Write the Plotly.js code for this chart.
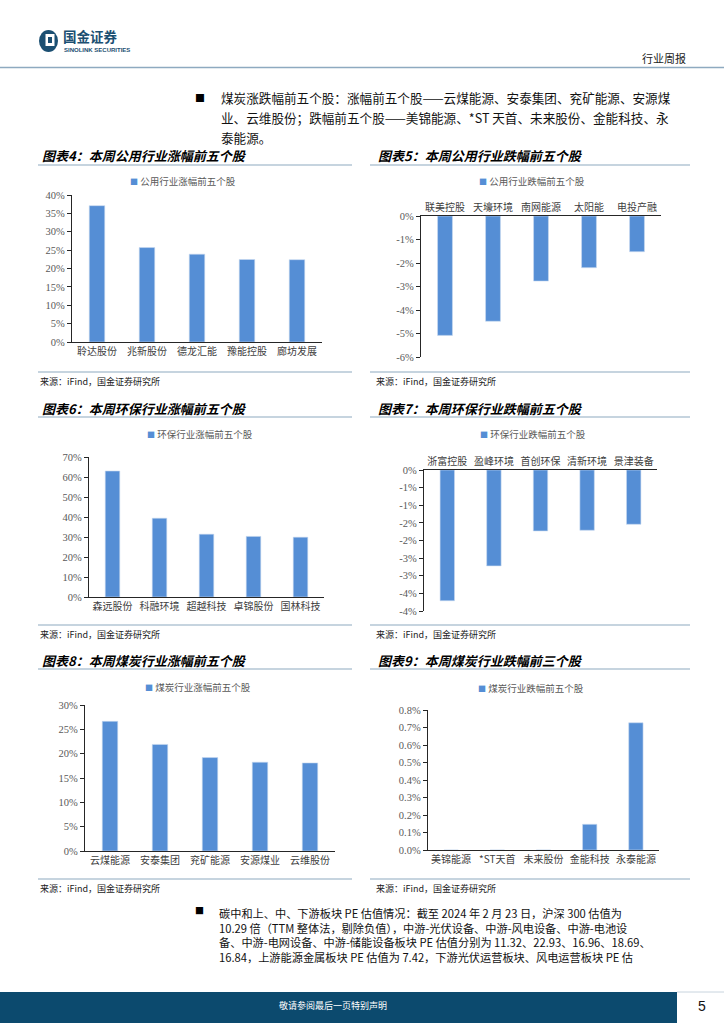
<!DOCTYPE html>
<html>
<head>
<meta charset="utf-8">
<script src="https://cdn.plot.ly/plotly-3.0.1.min.js"></script>
<style>
html,body{margin:0;padding:0;background:#fff;}
#page{width:724px;height:1024px;}
</style>
</head>
<body>
<div id="page"></div>
<script>
// ---------- data ----------
const c4Cats = ['聆达股份','兆新股份','德龙汇能','豫能控股','廊坊发展'];
const c4Vals = [0.371, 0.257, 0.239, 0.2245, 0.224];
const c4Name = '公用行业涨幅前五个股';

const c5Cats = ['联美控股','天壕环境','南网能源','太阳能','电投产融'];
const c5Vals = [-0.0508, -0.0448, -0.0277, -0.0220, -0.0152];
const c5Name = '公用行业跌幅前五个股';

const c6Cats = ['森远股份','科融环境','超越科技','卓锦股份','国林科技'];
const c6Vals = [0.630, 0.394, 0.314, 0.303, 0.299];
const c6Name = '环保行业涨幅前五个股';

const c7Cats = ['浙富控股','盈峰环境','首创环保','清新环境','景津装备'];
const c7Vals = [-0.0371, -0.0272, -0.0173, -0.0171, -0.0154];
const c7Name = '环保行业跌幅前五个股';

const c8Cats = ['云煤能源','安泰集团','兖矿能源','安源煤业','云维股份'];
const c8Vals = [0.2665, 0.219, 0.192, 0.1825, 0.181];
const c8Name = '煤炭行业涨幅前五个股';

const c9Cats = ['美锦能源','*ST天首','未来股份','金能科技','永泰能源'];
const c9Vals = [0, 0, 0, 0.00147, 0.00727];
const c9Name = '煤炭行业跌幅前五个股';

const c5TickVals = [0, -0.01, -0.02, -0.03, -0.04, -0.05, -0.06];
const c5TickText = ['0%','-1%','-2%','-3%','-4%','-5%','-6%'];
const c7TickVals = [0, -0.005, -0.01, -0.015, -0.02, -0.025, -0.03, -0.035, -0.04];
const c7TickText = ['0%','-1%','-1%','-2%','-2%','-3%','-3%','-4%','-4%'];

const titles = ['图表4：本周公用行业涨幅前五个股','图表5：本周公用行业跌幅前五个股',
  '图表6：本周环保行业涨幅前五个股','图表7：本周环保行业跌幅前五个股',
  '图表8：本周煤炭行业涨幅前五个股','图表9：本周煤炭行业跌幅前三个股'];
const sourceText = '来源：iFind，国金证券研究所';

const topPara = ['煤炭涨跌幅前五个股：涨幅前五个股——云煤能源、安泰集团、兖矿能源、安源煤',
  '业、云维股份；跌幅前五个股——美锦能源、*ST 天首、未来股份、金能科技、永',
  '泰能源。'];
const botPara = ['碳中和上、中、下游板块 PE 估值情况：截至 2024 年 2 月 23 日，沪深 300 估值为',
  '10.29 倍（TTM 整体法，剔除负值），中游-光伏设备、中游-风电设备、中游-电池设',
  '备、中游-电网设备、中游-储能设备板块 PE 估值分别为 11.32、22.93、16.96、18.69、',
  '16.84，上游能源金属板块 PE 估值为 7.42，下游光伏运营板块、风电运营板块 PE 估'];

// ---------- helpers ----------
const W = 724, H = 1024;
const px = x => x / W;
const py = y => 1 - y / H;
const CJK = 'Noto Sans CJK SC';
const SERIF = 'Liberation Serif';
const BAR = '#558ed5';
const RULE = '#8eaac0';

const charts = [
  {cats:c4Cats, vals:c4Vals, name:c4Name, x:[72,322],  y:[195,342], range:[0,0.4],   dtick:0.05, fmt:'.0%', top:false, leg:[183,181]},
  {cats:c5Cats, vals:c5Vals, name:c5Name, x:[421,661], y:[216,357], range:[-0.06,0], tv:c5TickVals, tt:c5TickText, top:true, leg:[532,181]},
  {cats:c6Cats, vals:c6Vals, name:c6Name, x:[89,324],  y:[457,597], range:[0,0.7],   dtick:0.1,  fmt:'.0%', top:false, leg:[200,434]},
  {cats:c7Cats, vals:c7Vals, name:c7Name, x:[424,657], y:[470,611], range:[-0.04,0], tv:c7TickVals, tt:c7TickText, top:true, leg:[533,434]},
  {cats:c8Cats, vals:c8Vals, name:c8Name, x:[85,335],  y:[705,851], range:[0,0.3],   dtick:0.05, fmt:'.0%', top:false, leg:[198,687]},
  {cats:c9Cats, vals:c9Vals, name:c9Name, x:[428,659], y:[710,850], range:[0,0.008], dtick:0.001,fmt:'.1%', top:false, leg:[531,688]}
];

const data = [];
const layout = {
  width: W, height: H,
  margin: {l:0, r:0, t:0, b:0},
  paper_bgcolor: '#fff', plot_bgcolor: 'rgba(0,0,0,0)',
  showlegend: false,
  bargap: 0.69,
  font: {family: CJK, color: '#333'},
  annotations: [], shapes: []
};

charts.forEach((c, i) => {
  const n = i + 1;
  const xa = n === 1 ? 'x' : 'x' + n;
  const ya = n === 1 ? 'y' : 'y' + n;
  data.push({
    type: 'bar', x: c.cats, y: c.vals, name: c.name,
    xaxis: xa, yaxis: ya,
    marker: {color: BAR, line: {color: '#c9daf0', width: 0.6}},
    hoverinfo: 'none'
  });
  const xk = n === 1 ? 'xaxis' : 'xaxis' + n;
  const yk = n === 1 ? 'yaxis' : 'yaxis' + n;
  layout[xk] = {
    domain: [px(c.x[0]), px(c.x[1])], anchor: ya, type: 'category',
    side: c.top ? 'top' : 'bottom',
    showline: true, linecolor: '#262626', linewidth: 1.2,
    ticks: '', showgrid: false, zeroline: false,
    tickfont: {family: CJK, size: 10, color: '#404040'},
    fixedrange: true
  };
  const yax = {
    domain: [py(c.y[1]), py(c.y[0])], anchor: xa,
    range: c.range, showline: true, linecolor: '#262626', linewidth: 1.2,
    ticks: 'outside', ticklen: 4, tickcolor: '#262626', tickwidth: 1,
    showgrid: false, zeroline: false,
    tickfont: {family: SERIF, size: 10.5, color: '#595959'},
    fixedrange: true
  };
  if (c.tv) { yax.tickmode = 'array'; yax.tickvals = c.tv; yax.ticktext = c.tt; }
  else { yax.tickmode = 'linear'; yax.tick0 = 0; yax.dtick = c.dtick; yax.tickformat = c.fmt; }
  layout[yk] = yax;
  // legend (as annotation with square marker)
  layout.annotations.push({
    xref:'paper', yref:'paper', x: px(c.leg[0]), y: py(c.leg[1]),
    xanchor:'center', yanchor:'middle', showarrow:false,
    text: '<span style="color:' + BAR + ';font-size:8px">■</span> ' + c.name,
    font: {family: CJK, size: 9.5, color: '#595959'}
  });
});

// chart titles, rules, sources
const blocks = [
  {tY:155, uY:165, bY:372, sY:381},
  {tY:408, uY:417, bY:625, sY:634},
  {tY:660, uY:669, bY:879, sY:888}
];
blocks.forEach((b, r) => {
  [[38,352,40],[370,690,376]].forEach((col, k) => {
    layout.annotations.push({
      xref:'paper', yref:'paper', x: px(col[2]), y: py(b.tY), xanchor:'left', yanchor:'middle',
      showarrow:false, text: '<b><i>' + titles[r*2+k] + '</i></b>',
      font: {family: CJK, size: 13, color: '#000'}
    });
    layout.annotations.push({
      xref:'paper', yref:'paper', x: px(col[2]-2), y: py(b.sY), xanchor:'left', yanchor:'middle',
      showarrow:false, text: sourceText,
      font: {family: CJK, size: 9, color: '#222'}
    });
    layout.shapes.push({type:'line', xref:'paper', yref:'paper', x0:px(col[0]), x1:px(col[1]), y0:py(b.uY), y1:py(b.uY), line:{color:RULE, width:1.2}});
    layout.shapes.push({type:'line', xref:'paper', yref:'paper', x0:px(col[0]), x1:px(col[1]), y0:py(b.bY), y1:py(b.bY), line:{color:RULE, width:1.2}});
  });
});

// header
layout.shapes.push({type:'line', xref:'paper', yref:'paper', x0:0, x1:1, y0:py(67.5), y1:py(67.5), line:{color:RULE, width:1.5}});
layout.shapes.push({type:'circle', xref:'paper', yref:'paper', x0:px(39), x1:px(58), y0:py(52), y1:py(30), fillcolor:'#1b4f72', line:{width:0}});
layout.shapes.push({type:'rect', xref:'paper', yref:'paper', x0:px(45.5), x1:px(54.5), y0:py(46), y1:py(34), fillcolor:'#fff', line:{width:0}});
layout.shapes.push({type:'rect', xref:'paper', yref:'paper', x0:px(48), x1:px(52), y0:py(43), y1:py(37), fillcolor:'#1b4f72', line:{width:0}});
layout.annotations.push({xref:'paper', yref:'paper', x:px(61), y:py(36), xanchor:'left', yanchor:'middle', showarrow:false,
  text:'<b>国金证券</b>', font:{family:CJK, size:13.5, color:'#1b4f72'}});
layout.annotations.push({xref:'paper', yref:'paper', x:px(62), y:py(50), xanchor:'left', yanchor:'middle', showarrow:false,
  text:'<b>SINOLINK SECURITIES</b>', font:{family:'Liberation Sans', size:6, color:'#1b4f72'}});
layout.annotations.push({xref:'paper', yref:'paper', x:px(688), y:py(58), xanchor:'right', yanchor:'middle', showarrow:false,
  text:'行业周报', font:{family:CJK, size:11, color:'#222'}});

// top paragraph
layout.annotations.push({xref:'paper', yref:'paper', x:px(193), y:py(97), xanchor:'left', yanchor:'middle', showarrow:false,
  text:'■', font:{family:CJK, size:10, color:'#000'}});
topPara.forEach((t, i) => {
  layout.annotations.push({xref:'paper', yref:'paper', x:px(219), y:py(97 + i*20), xanchor:'left', yanchor:'middle', showarrow:false,
    text:t, font:{family:CJK, size:12.6, color:'#111'}});
});

// bottom paragraph (single multi-line block)
layout.annotations.push({xref:'paper', yref:'paper', x:px(193), y:py(910), xanchor:'left', yanchor:'middle', showarrow:false,
  text:'■', font:{family:CJK, size:9, color:'#000'}});
layout.annotations.push({xref:'paper', yref:'paper', x:px(217), y:py(903), xanchor:'left', yanchor:'top', showarrow:false,
  align:'left', text: botPara.join('<br>'), font:{family:CJK, size:11.2, color:'#111'}});

// footer
layout.shapes.push({type:'rect', xref:'paper', yref:'paper', x0:0, x1:px(677), y0:py(1023), y1:py(992), fillcolor:'#0c4a6e', line:{width:0}});
layout.shapes.push({type:'line', xref:'paper', yref:'paper', x0:px(677), x1:1, y0:py(992), y1:py(992), line:{color:'#c8d4de', width:1}});
layout.annotations.push({xref:'paper', yref:'paper', x:px(277), y:py(1005), xanchor:'left', yanchor:'middle', showarrow:false,
  text:'敬请参阅最后一页特别声明', font:{family:CJK, size:9, color:'#fff'}});
layout.annotations.push({xref:'paper', yref:'paper', x:px(702), y:py(1006), xanchor:'center', yanchor:'middle', showarrow:false,
  text:'5', font:{family:'Liberation Sans', size:14, color:'#111'}});

Plotly.newPlot('page', data, layout, {staticPlot:true, displayModeBar:false});
</script>
</body>
</html>
